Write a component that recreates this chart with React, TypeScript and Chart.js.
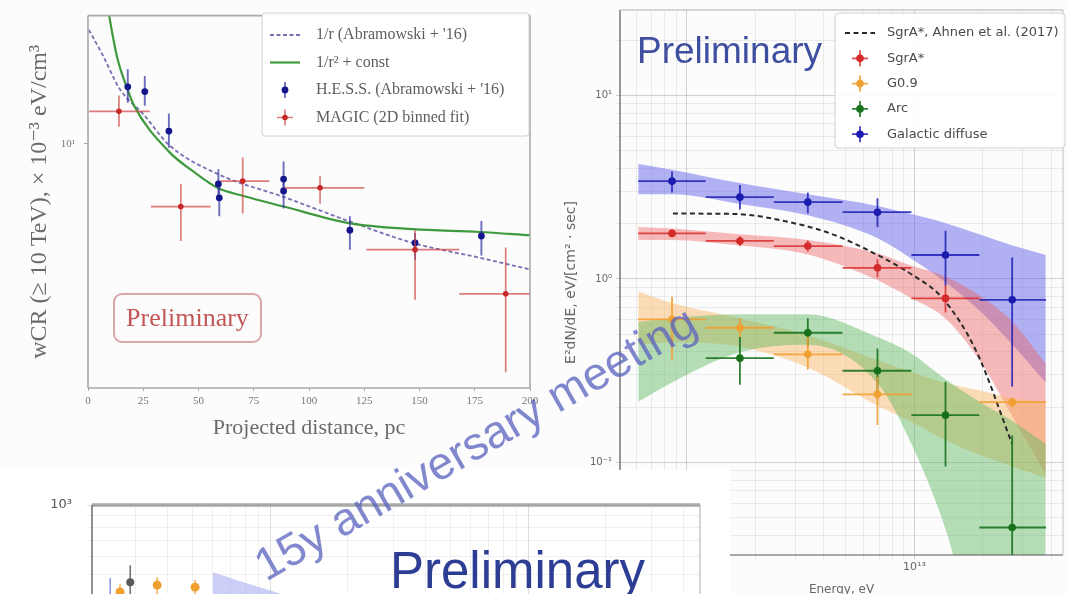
import React, { useEffect, useRef } from "react";
import { Chart, registerables } from "chart.js";

Chart.register(...registerables);

const SERIF = '"Liberation Serif", "DejaVu Serif", "Times New Roman", serif';
const SANS = '"DejaVu Sans", "Liberation Sans", sans-serif';
const ARIAL = '"Liberation Sans", Arial, Helvetica, sans-serif';

// ---------------- Left panel: CR energy density vs projected distance ----------------
const DIST_TICKS = [0, 25, 50, 75, 100, 125, 150, 175, 200];
const W_TICKS = [10];
const W_MIN = 1.76;
const W_MAX = 24.9;

const HESS_PC = [18, 25.7, 36.6, 59, 59.4, 88.5, 88.5, 118.5, 148, 178];
const HESS_W = [15.0, 14.5, 10.95, 7.52, 6.81, 7.78, 7.15, 5.41, 4.94, 5.19];
const HESS_W_LO = [13.4, 13.1, 9.72, 6.67, 5.97, 7.0, 6.31, 4.71, 4.38, 4.52];
const HESS_W_HI = [17.0, 16.2, 12.4, 8.34, 7.52, 8.82, 7.94, 5.97, 5.3, 5.77];

const MAGIC_PC = [14, 42, 70, 105, 148, 189];
const MAGIC_PC_LO = [0.5, 28.5, 60, 89, 126, 168];
const MAGIC_PC_HI = [28, 55.5, 82, 125, 168, 200];
const MAGIC_W = [12.6, 6.4, 7.67, 7.31, 4.71, 3.44];
const MAGIC_W_LO = [11.3, 5.01, 6.09, 6.53, 3.3, 1.97];
const MAGIC_W_HI = [14.1, 7.52, 9.07, 7.94, 5.41, 4.78];

const INV_R_PC = [0.4, 7, 14.3, 25.7, 36.6, 59, 88.6, 118, 147, 177, 200];
const INV_R_W = [22.5, 18.6, 14.8, 12.2, 9.93, 8.05, 6.85, 5.77, 4.94, 4.45, 4.09];

const INV_R2_PC = [7.5, 13.1, 18.1, 20.9, 36.6, 47.5, 58.8, 70, 88.6, 118, 147, 177, 200];
const INV_R2_W = [30, 18.6, 14.6, 13.1, 9.46, 8.23, 7.3, 6.91, 6.4, 5.69, 5.45, 5.34, 5.22];

// ---------------- Right panel: spectra ----------------
const E_GRID = [6e11, 7e11, 8e11, 9e11, 1e12, 2e12, 3e12, 4e12, 5e12, 6e12, 7e12, 8e12, 9e12, 1e13, 2e13, 3e13, 4e13];
const FLUX_GRID = [
  0.04, 0.05, 0.06, 0.07, 0.08, 0.09, 0.1, 0.2, 0.3, 0.4, 0.5, 0.6, 0.7, 0.8, 0.9,
  1, 2, 3, 4, 5, 6, 7, 8, 9, 10, 20,
];
const E_MIN = 5.08e11;
const E_MAX = 4.5e13;
const F_MIN = 0.0313;
const F_MAX = 29.2;

const BIN_E = [8.6e11, 1.71e12, 3.4e12, 6.88e12, 1.37e13, 2.69e13];
const BIN_E_LO = [6.1e11, 1.21e12, 2.41e12, 4.83e12, 9.7e12, 1.93e13];
const BIN_E_HI = [1.21e12, 2.41e12, 4.83e12, 9.7e12, 1.93e13, 3.79e13];

const DIFFUSE_BINS = [0, 1, 2, 3, 4, 5];
const DIFFUSE_F = [3.41, 2.79, 2.62, 2.31, 1.35, 0.769];
const DIFFUSE_F_LO = [2.96, 2.39, 2.28, 1.92, 0.918, 0.259];
const DIFFUSE_F_HI = [3.85, 3.25, 2.96, 2.75, 1.83, 1.31];

const SGRA_BINS = [0, 1, 2, 3, 4];
const SGRA_F = [1.77, 1.61, 1.51, 1.15, 0.783];
const SGRA_F_LO = [1.69, 1.51, 1.41, 1.02, 0.656];
const SGRA_F_HI = [1.86, 1.71, 1.62, 1.28, 0.918];

const G09_BINS = [0, 1, 2, 3, 5];
const G09_F = [0.602, 0.542, 0.388, 0.235, 0.213];
const G09_F_LO = [0.36, 0.482, 0.321, 0.16, 0.2];
const G09_F_HI = [0.8, 0.611, 0.482, 0.292, 0.226];

const ARC_BINS = [1, 2, 3, 4, 5];
const ARC_F = [0.37, 0.509, 0.316, 0.181, 0.0442];
const ARC_F_LO = [0.265, 0.428, 0.224, 0.095, 0.02];
const ARC_F_HI = [0.482, 0.611, 0.417, 0.275, 0.14];

const BAND_E = [6.11e11, 8.57e11, 1.71e12, 3.4e12, 6.86e12, 9.51e12, 1.364e13, 1.93e13, 2.7e13, 3.78e13];
const DIFFUSE_BAND_HI = [4.23, 3.94, 3.33, 2.89, 2.5, 2.27, 2.02, 1.75, 1.52, 1.35];
const DIFFUSE_BAND_LO = [2.89, 2.89, 2.56, 2.22, 1.67, 1.31, 0.962, 0.673, 0.438, 0.272];
const SGRA_BAND_HI = [1.92, 1.88, 1.75, 1.63, 1.38, 1.19, 1.03, 0.814, 0.583, 0.345];
const SGRA_BAND_LO = [1.63, 1.63, 1.52, 1.36, 0.986, 0.795, 0.611, 0.361, 0.177, 0.086];
const G09_BAND_HI = [0.854, 0.74, 0.611, 0.493, 0.361, 0.313, 0.272, 0.247, 0.224, 0.214];
const G09_BAND_LO = [0.438, 0.45, 0.427, 0.329, 0.204, 0.168, 0.133, 0.11, 0.095, 0.082];
const ARC_BAND_HI = [0.583, 0.611, 0.641, 0.641, 0.482, 0.398, 0.285, 0.214, 0.168, 0.126];
const ARC_BAND_LO = [0.214, 0.272, 0.398, 0.438, 0.272, 0.133, 0.044, 0.01, 0.005, 0.003];

const AHNEN_E = [8.68e11, 1.59e12, 3.13e12, 4.37e12, 6.81e12, 9.7e12, 1.33e13, 1.87e13, 2.69e13];
const AHNEN_F = [2.27, 2.26, 1.98, 1.75, 1.36, 1.06, 0.784, 0.404, 0.126];

// ---------------- Bottom (partly visible) panel ----------------
const LOW_E_GRID = [
  3e11, 4e11, 5e11, 6e11, 7e11, 8e11, 9e11, 1e12, 2e12, 3e12, 4e12, 5e12, 6e12, 7e12, 8e12, 9e12,
  1e13, 2e13, 3e13, 4e13,
];
const LOW_F_GRID = [500, 600, 700, 800, 900, 1000];
const LOW_E_MIN = 2.04e11;
const LOW_E_MAX = 4.64e13;
const LOW_F_MIN = 410;
const LOW_F_MAX = 1000;

const LOW_GREY_E = [2.87e11];
const LOW_GREY_F = [462];
const LOW_GREY_F_LO = [380];
const LOW_GREY_F_HI = [548];

const LOW_ORANGE_E = [2.62e11, 3.65e11, 5.12e11];
const LOW_ORANGE_F = [419, 449, 440];
const LOW_ORANGE_F_LO = [360, 400, 400];
const LOW_ORANGE_F_HI = [455, 486, 472];

const LOW_BLUE_E = [2.4e11];
const LOW_BLUE_F = [395];
const LOW_BLUE_F_LO = [340];
const LOW_BLUE_F_HI = [482];

const LOW_BAND_E = [6.0e11, 7.5e11, 1.0e12, 1.35e12];
const LOW_BAND_HI = [510, 470, 425, 385];
const LOW_BAND_LO = [300, 280, 250, 220];

// ---------------- helpers ----------------
const SUP: Record<string, string> = {
  "-": "⁻", "0": "⁰", "1": "¹", "2": "²", "3": "³", "4": "⁴", "5": "⁵", "6": "⁶", "7": "⁷", "8": "⁸", "9": "⁹",
};
function isPow10(v: number) {
  const l = Math.log10(v);
  return Math.abs(l - Math.round(l)) < 1e-6;
}
function pow10Label(v: number) {
  if (!isPow10(v)) return "";
  const e = Math.round(Math.log10(v));
  return "10" + String(e).split("").map((c) => SUP[c]).join("");
}
const pts = (xs: number[], ys: number[]) => xs.map((x, i) => ({ x, y: ys[i] }));
const pick = (arr: number[], idx: number[]) => idx.map((i) => arr[i]);
const setTicks = (vals: number[]) => (s: any) => {
  s.ticks = vals.map((v) => ({ value: v }));
};
const gridColor = (major: string, minor: string) => (c: any) =>
  c && c.tick && isPow10(c.tick.value) ? major : minor;

// ---------------- plugins ----------------
const errorBarPlugin = {
  id: "errorBars",
  beforeDatasetDraw(chart: any, args: any) {
    const ds = chart.data.datasets[args.index];
    const eb = ds && ds.errorBars;
    if (!eb) return;
    const xs = chart.scales.x;
    const ys = chart.scales.y;
    const ctx = chart.ctx;
    const a = chart.chartArea;
    ctx.save();
    ctx.beginPath();
    ctx.rect(a.left, a.top, a.right - a.left, a.bottom - a.top);
    ctx.clip();
    ctx.strokeStyle = eb.color;
    ctx.lineWidth = eb.width;
    ctx.lineCap = "butt";
    ds.data.forEach((p: any, i: number) => {
      const px = xs.getPixelForValue(p.x);
      const py = ys.getPixelForValue(p.y);
      ctx.beginPath();
      if (eb.xLo) {
        ctx.moveTo(xs.getPixelForValue(eb.xLo[i]), py);
        ctx.lineTo(xs.getPixelForValue(eb.xHi[i]), py);
      }
      if (eb.yLo) {
        ctx.moveTo(px, ys.getPixelForValue(eb.yLo[i]));
        ctx.lineTo(px, ys.getPixelForValue(eb.yHi[i]));
      }
      ctx.stroke();
    });
    ctx.restore();
  },
};

const framePlugin = {
  id: "frame",
  afterDatasetsDraw(chart: any, _a: any, o: any) {
    if (!o || !o.sides) return;
    const { left, right, top, bottom } = chart.chartArea;
    const ctx = chart.ctx;
    ctx.save();
    for (const s of o.sides) {
      ctx.strokeStyle = s.color;
      ctx.lineWidth = s.width;
      ctx.beginPath();
      if (s.side === "left") { ctx.moveTo(left, top); ctx.lineTo(left, bottom); }
      if (s.side === "right") { ctx.moveTo(right, top); ctx.lineTo(right, bottom); }
      if (s.side === "top") { ctx.moveTo(left, top); ctx.lineTo(right, top); }
      if (s.side === "bottom") { ctx.moveTo(left, bottom); ctx.lineTo(right, bottom); }
      ctx.stroke();
    }
    ctx.restore();
  },
};

function drawMarker(ctx: any, d: any, cx: number, cy: number, half: number, errHalf: number) {
  ctx.save();
  if (d.legendMarker === "line") {
    ctx.strokeStyle = d.borderColor;
    ctx.lineWidth = d.borderWidth;
    ctx.setLineDash(d.borderDash || []);
    ctx.beginPath();
    ctx.moveTo(cx - half, cy);
    ctx.lineTo(cx + half, cy);
    ctx.stroke();
  } else {
    const eb = d.errorBars;
    ctx.strokeStyle = eb.color;
    ctx.lineWidth = eb.width;
    ctx.beginPath();
    ctx.moveTo(cx, cy - errHalf);
    ctx.lineTo(cx, cy + errHalf);
    if (d.legendMarker === "errXY") {
      ctx.moveTo(cx - errHalf, cy);
      ctx.lineTo(cx + errHalf, cy);
    }
    ctx.stroke();
    ctx.fillStyle = d.pointBackgroundColor;
    ctx.beginPath();
    ctx.arc(cx, cy, d.pointRadius, 0, Math.PI * 2);
    ctx.fill();
  }
  ctx.restore();
}

const boxLegendPlugin = {
  id: "boxLegend",
  afterDraw(chart: any, _a: any, o: any) {
    if (!o || o.x === undefined) return;
    const ctx = chart.ctx;
    const items = chart.data.datasets
      .filter((d: any) => d.legendMarker)
      .sort((a: any, b: any) => a.legendOrder - b.legendOrder);
    ctx.save();
    ctx.beginPath();
    if (ctx.roundRect) ctx.roundRect(o.x, o.y, o.w, o.h, o.radius);
    else ctx.rect(o.x, o.y, o.w, o.h);
    ctx.fillStyle = o.fill;
    ctx.fill();
    ctx.strokeStyle = o.border;
    ctx.lineWidth = 1;
    ctx.stroke();
    items.forEach((d: any, i: number) => {
      const cy = o.firstRow + i * o.rowGap;
      drawMarker(ctx, d, o.markerX, cy, o.markerHalf, o.errHalf);
      ctx.font = o.textFont;
      ctx.fillStyle = o.textColor;
      ctx.textBaseline = "middle";
      ctx.textAlign = "left";
      ctx.fillText(d.label, o.textX, cy);
    });
    ctx.restore();
  },
};

const PLUGINS = [errorBarPlugin, framePlugin, boxLegendPlugin];

// ---------------- configs ----------------
function leftConfig(): any {
  const W = 545;
  const H = 440;
  const frameC = "#a9a9a9";
  return {
    type: "line",
    data: {
      datasets: [
        {
          label: "MAGIC (2D binned fit)",
          data: pts(MAGIC_PC, MAGIC_W),
          showLine: false,
          pointRadius: 2.8,
          pointBackgroundColor: "#c62828",
          pointBorderColor: "#c62828",
          pointBorderWidth: 0,
          order: 0,
          errorBars: { xLo: MAGIC_PC_LO, xHi: MAGIC_PC_HI, yLo: MAGIC_W_LO, yHi: MAGIC_W_HI, color: "rgba(205,70,70,0.7)", width: 1.7 },
          legendMarker: "errXY",
          legendOrder: 3,
        },
        {
          label: "H.E.S.S. (Abramowski + '16)",
          data: pts(HESS_PC, HESS_W),
          showLine: false,
          pointRadius: 3.4,
          pointBackgroundColor: "#15158c",
          pointBorderColor: "#15158c",
          pointBorderWidth: 0,
          order: 1,
          errorBars: { yLo: HESS_W_LO, yHi: HESS_W_HI, color: "rgba(50,50,160,0.7)", width: 1.9 },
          legendMarker: "errY",
          legendOrder: 2,
        },
        {
          label: "1/r² + const",
          data: pts(INV_R2_PC, INV_R2_W),
          borderColor: "#3f9a3f",
          borderWidth: 2.2,
          pointRadius: 0,
          cubicInterpolationMode: "monotone",
          order: 2,
          legendMarker: "line",
          legendOrder: 1,
        },
        {
          label: "1/r (Abramowski + '16)",
          data: pts(INV_R_PC, INV_R_W),
          borderColor: "rgba(105,95,170,0.9)",
          borderWidth: 1.8,
          borderDash: [4, 2.5],
          pointRadius: 0,
          cubicInterpolationMode: "monotone",
          order: 3,
          legendMarker: "line",
          legendOrder: 0,
        },
      ],
    },
    options: {
      responsive: false,
      animation: false,
      events: [],
      layout: { padding: { left: 0, top: 8, right: W - 530, bottom: 0 } },
      plugins: {
        legend: { display: false },
        tooltip: { enabled: false },
        frame: {
          sides: [
            { side: "left", color: frameC, width: 1.6 },
            { side: "right", color: frameC, width: 1.6 },
            { side: "top", color: frameC, width: 1.6 },
            { side: "bottom", color: frameC, width: 1.6 },
          ],
        },
        boxLegend: {
          x: 262, y: 13, w: 267, h: 123, radius: 3,
          firstRow: 35, rowGap: 27.5,
          markerX: 285, markerHalf: 15, errHalf: 8, textX: 316,
          textFont: `16px ${SERIF}`, textColor: "#5e5e5e",
          border: "#d2d2d2", fill: "rgba(255,255,255,0.92)",
        },
      },
      scales: {
        x: {
          type: "linear",
          min: 0,
          max: 200,
          afterBuildTicks: setTicks(DIST_TICKS),
          afterFit: (s: any) => { s.height = H - 388; },
          border: { display: false },
          grid: { drawOnChartArea: false, drawTicks: true, tickLength: 3, color: "#aaa" },
          ticks: {
            padding: 4, color: "#777", maxRotation: 0, autoSkip: false,
            font: { family: SERIF, size: 11 },
            callback: (v: any) => String(v),
          },
          title: {
            display: true, text: "Projected distance, pc", color: "#6a6a6a",
            font: { family: SERIF, size: 22 }, padding: { top: 0, bottom: -1 },
          },
        },
        y: {
          type: "logarithmic",
          min: W_MIN,
          max: W_MAX,
          afterBuildTicks: setTicks(W_TICKS),
          afterFit: (s: any) => { s.width = 88; },
          border: { display: false },
          grid: { drawOnChartArea: false, drawTicks: true, tickLength: 4, color: "#aaa" },
          ticks: {
            padding: 9, color: "#777", autoSkip: false,
            font: { family: SERIF, size: 11 },
            callback: (v: any) => pow10Label(Number(v)),
          },
          title: {
            display: true, text: "wCR (≥ 10 TeV), × 10⁻³ eV/cm³", color: "#6a6a6a",
            font: { family: SERIF, size: 24 }, padding: { top: 25, bottom: 0 },
          },
        },
      },
    },
    plugins: PLUGINS,
  };
}

function rightConfig(): any {
  const band = (name: string, hi: number[], lo: number[], color: string, order: number) => [
    { label: name + " band upper", data: pts(BAND_E, hi), borderColor: "rgba(0,0,0,0)", borderWidth: 0, pointRadius: 0, fill: false, cubicInterpolationMode: "monotone", order },
    { label: name + " band lower", data: pts(BAND_E, lo), borderColor: "rgba(0,0,0,0)", borderWidth: 0, pointRadius: 0, fill: "-1", backgroundColor: color, cubicInterpolationMode: "monotone", order },
  ];
  const series = (label: string, bins: number[], f: number[], lo: number[], hi: number[], color: string, bar: string, legendOrder: number) => ({
    label,
    data: pts(pick(BIN_E, bins), f),
    showLine: false,
    pointRadius: 3.8,
    pointBackgroundColor: color,
    pointBorderColor: color,
    pointBorderWidth: 0,
    order: 0,
    errorBars: { xLo: pick(BIN_E_LO, bins), xHi: pick(BIN_E_HI, bins), yLo: lo, yHi: hi, color: bar, width: 1.8 },
    legendMarker: "errXY",
    legendOrder,
  });
  const majorG = "rgba(0,0,0,0.17)";
  const minorG = "rgba(0,0,0,0.07)";
  return {
    type: "line",
    data: {
      datasets: [
        series("Galactic diffuse", DIFFUSE_BINS, DIFFUSE_F, DIFFUSE_F_LO, DIFFUSE_F_HI, "#1b1bb0", "rgba(30,30,180,0.85)", 4),
        series("SgrA*", SGRA_BINS, SGRA_F, SGRA_F_LO, SGRA_F_HI, "#d42a2a", "rgba(215,45,45,0.85)", 1),
        series("G0.9", G09_BINS, G09_F, G09_F_LO, G09_F_HI, "#f0a030", "rgba(240,160,50,0.9)", 2),
        series("Arc", ARC_BINS, ARC_F, ARC_F_LO, ARC_F_HI, "#17701a", "rgba(25,115,30,0.9)", 3),
        {
          label: "SgrA*, Ahnen et al. (2017)",
          data: pts(AHNEN_E, AHNEN_F),
          borderColor: "#2a2a2a",
          borderWidth: 2,
          borderDash: [5, 3.5],
          pointRadius: 0,
          cubicInterpolationMode: "monotone",
          order: 1,
          legendMarker: "line",
          legendOrder: 0,
        },
        ...band("Galactic diffuse", DIFFUSE_BAND_HI, DIFFUSE_BAND_LO, "rgba(95,95,235,0.48)", 10),
        ...band("SgrA*", SGRA_BAND_HI, SGRA_BAND_LO, "rgba(240,105,105,0.45)", 9),
        ...band("G0.9", G09_BAND_HI, G09_BAND_LO, "rgba(250,180,95,0.45)", 8),
        ...band("Arc", ARC_BAND_HI, ARC_BAND_LO, "rgba(95,185,95,0.45)", 7),
      ],
    },
    options: {
      responsive: false,
      animation: false,
      events: [],
      layout: { padding: { left: 0, top: 8, right: 2, bottom: 0 } },
      plugins: {
        legend: { display: false },
        tooltip: { enabled: false },
        frame: {
          sides: [
            { side: "left", color: "#555", width: 1.2 },
            { side: "bottom", color: "#555", width: 1.2 },
            { side: "top", color: "#b0b0b0", width: 1 },
            { side: "right", color: "#c0c0c0", width: 1 },
          ],
        },
        boxLegend: {
          x: 275, y: 13, w: 230, h: 135, radius: 4,
          firstRow: 33, rowGap: 25.3,
          markerX: 300, markerHalf: 15, errHalf: 8, textX: 327,
          textFont: `13px ${SANS}`, textColor: "#4a4a4a",
          border: "#cfcfcf", fill: "rgba(255,255,255,0.88)",
        },
      },
      scales: {
        x: {
          type: "logarithmic",
          min: E_MIN,
          max: E_MAX,
          afterBuildTicks: setTicks(E_GRID),
          afterFit: (s: any) => { s.height = 39; },
          border: { display: false },
          grid: { color: gridColor(majorG, minorG), drawTicks: true, tickLength: 4 },
          ticks: {
            padding: 2, color: "#666", maxRotation: 0, autoSkip: false,
            font: { family: SANS, size: 11 },
            callback: (v: any) => pow10Label(Number(v)),
          },
          title: {
            display: true, text: "Energy, eV", color: "#666",
            font: { family: SANS, size: 12 }, padding: { top: 0, bottom: -3 },
          },
        },
        y: {
          type: "logarithmic",
          min: F_MIN,
          max: F_MAX,
          afterBuildTicks: setTicks(FLUX_GRID),
          afterFit: (s: any) => { s.width = 60; },
          border: { display: false },
          grid: { color: gridColor(majorG, minorG), drawTicks: true, tickLength: 4 },
          ticks: {
            padding: 4, color: "#666", autoSkip: false,
            font: { family: SANS, size: 10 },
            callback: (v: any) => pow10Label(Number(v)),
          },
          title: {
            display: true, text: "E²dN/dE, eV/[cm² · sec]", color: "#666",
            font: { family: SANS, size: 14 }, padding: { top: 3, bottom: 0 },
          },
        },
      },
    },
    plugins: PLUGINS,
  };
}

function lowConfig(): any {
  const majorG = "rgba(0,0,0,0.13)";
  const minorG = "rgba(0,0,0,0.06)";
  return {
    type: "line",
    data: {
      datasets: [
        {
          label: "grey",
          data: pts(LOW_GREY_E, LOW_GREY_F),
          showLine: false,
          pointRadius: 4,
          pointBackgroundColor: "#5a5a5a",
          pointBorderColor: "#5a5a5a",
          pointBorderWidth: 0,
          order: 0,
          errorBars: { yLo: LOW_GREY_F_LO, yHi: LOW_GREY_F_HI, color: "rgba(80,80,80,0.8)", width: 1.6 },
        },
        {
          label: "orange",
          data: pts(LOW_ORANGE_E, LOW_ORANGE_F),
          showLine: false,
          pointRadius: 4.5,
          pointBackgroundColor: "#f0a030",
          pointBorderColor: "#f0a030",
          pointBorderWidth: 0,
          order: 0,
          errorBars: { yLo: LOW_ORANGE_F_LO, yHi: LOW_ORANGE_F_HI, color: "rgba(240,160,50,0.8)", width: 1.6 },
        },
        {
          label: "blue",
          data: pts(LOW_BLUE_E, LOW_BLUE_F),
          showLine: false,
          pointRadius: 3,
          pointBackgroundColor: "rgba(110,130,220,0.8)",
          pointBorderColor: "rgba(110,130,220,0.8)",
          pointBorderWidth: 0,
          order: 0,
          errorBars: { yLo: LOW_BLUE_F_LO, yHi: LOW_BLUE_F_HI, color: "rgba(110,130,220,0.8)", width: 1.6 },
        },
        { label: "band upper", data: pts(LOW_BAND_E, LOW_BAND_HI), borderColor: "rgba(0,0,0,0)", borderWidth: 0, pointRadius: 0, fill: false, cubicInterpolationMode: "monotone", order: 5 },
        { label: "band lower", data: pts(LOW_BAND_E, LOW_BAND_LO), borderColor: "rgba(0,0,0,0)", borderWidth: 0, pointRadius: 0, fill: "-1", backgroundColor: "rgba(120,130,235,0.38)", cubicInterpolationMode: "monotone", order: 5 },
      ],
    },
    options: {
      responsive: false,
      animation: false,
      events: [],
      layout: { padding: { left: 0, top: 35, right: 30, bottom: 0 } },
      plugins: {
        legend: { display: false },
        tooltip: { enabled: false },
        frame: {
          sides: [
            { side: "top", color: "rgba(160,160,160,0.9)", width: 3.5 },
            { side: "left", color: "#555", width: 1.3 },
            { side: "right", color: "#aaa", width: 1 },
          ],
        },
      },
      scales: {
        x: {
          type: "logarithmic",
          min: LOW_E_MIN,
          max: LOW_E_MAX,
          afterBuildTicks: setTicks(LOW_E_GRID),
          afterFit: (s: any) => { s.height = 0; },
          border: { display: false },
          grid: { color: gridColor(majorG, minorG), drawTicks: false },
          ticks: { display: false },
        },
        y: {
          type: "logarithmic",
          min: LOW_F_MIN,
          max: LOW_F_MAX,
          afterBuildTicks: setTicks(LOW_F_GRID),
          afterFit: (s: any) => { s.width = 92; },
          border: { display: false },
          grid: { color: gridColor(majorG, minorG), drawTicks: true, tickLength: 5 },
          ticks: {
            padding: 15, color: "#555", autoSkip: false,
            font: { family: SANS, size: 13 },
            callback: (v: any) => pow10Label(Number(v)),
          },
        },
      },
    },
    plugins: PLUGINS,
  };
}

export default function App() {
  const leftRef = useRef<HTMLCanvasElement>(null);
  const rightRef = useRef<HTMLCanvasElement>(null);
  const lowRef = useRef<HTMLCanvasElement>(null);

  useEffect(() => {
    const charts: any[] = [];
    if (leftRef.current) charts.push(new Chart(leftRef.current, leftConfig()));
    if (rightRef.current) charts.push(new Chart(rightRef.current, rightConfig()));
    if (lowRef.current) charts.push(new Chart(lowRef.current, lowConfig()));
    return () => charts.forEach((c) => c.destroy());
  }, []);

  const abs: any = { position: "absolute" };
  return (
    <div style={{ position: "absolute", left: 0, top: 0, width: 1067, height: 594, overflow: "hidden", background: "#fcfcfc" }}>
      <canvas ref={leftRef} width={545} height={440} style={{ ...abs, left: 0, top: 0 }} />
      <div
        style={{
          ...abs, left: 113, top: 293, width: 149, height: 50, boxSizing: "border-box",
          border: "2px solid rgba(205,140,140,0.75)", borderRadius: 9,
          font: `26px ${SERIF}`, color: "#c25555", textAlign: "center", lineHeight: "46px",
        }}
      >
        Preliminary
      </div>
      <canvas ref={rightRef} width={507} height={594} style={{ ...abs, left: 560, top: 0 }} />
      <div style={{ ...abs, left: 637, top: 32, font: `37px ${ARIAL}`, lineHeight: 1, color: "#3f4f9f", whiteSpace: "nowrap" }}>
        Preliminary
      </div>
      <div style={{ ...abs, left: 0, top: 470, width: 730, height: 124, background: "#ffffff" }} />
      <canvas ref={lowRef} width={730} height={147} style={{ ...abs, left: 0, top: 470 }} />
      <div style={{ ...abs, left: 390, top: 545, font: `51px ${ARIAL}`, lineHeight: 1, color: "#2e3d94", whiteSpace: "nowrap" }}>
        Preliminary
      </div>
      <div
        style={{
          ...abs, left: 266, top: 543, font: `46px ${ARIAL}`, lineHeight: 1, whiteSpace: "nowrap",
          color: "rgba(88,96,190,0.75)", transform: "rotate(-30deg)", transformOrigin: "0px 39px",
        }}
      >
        15y anniversary meeting
      </div>
    </div>
  );
}
